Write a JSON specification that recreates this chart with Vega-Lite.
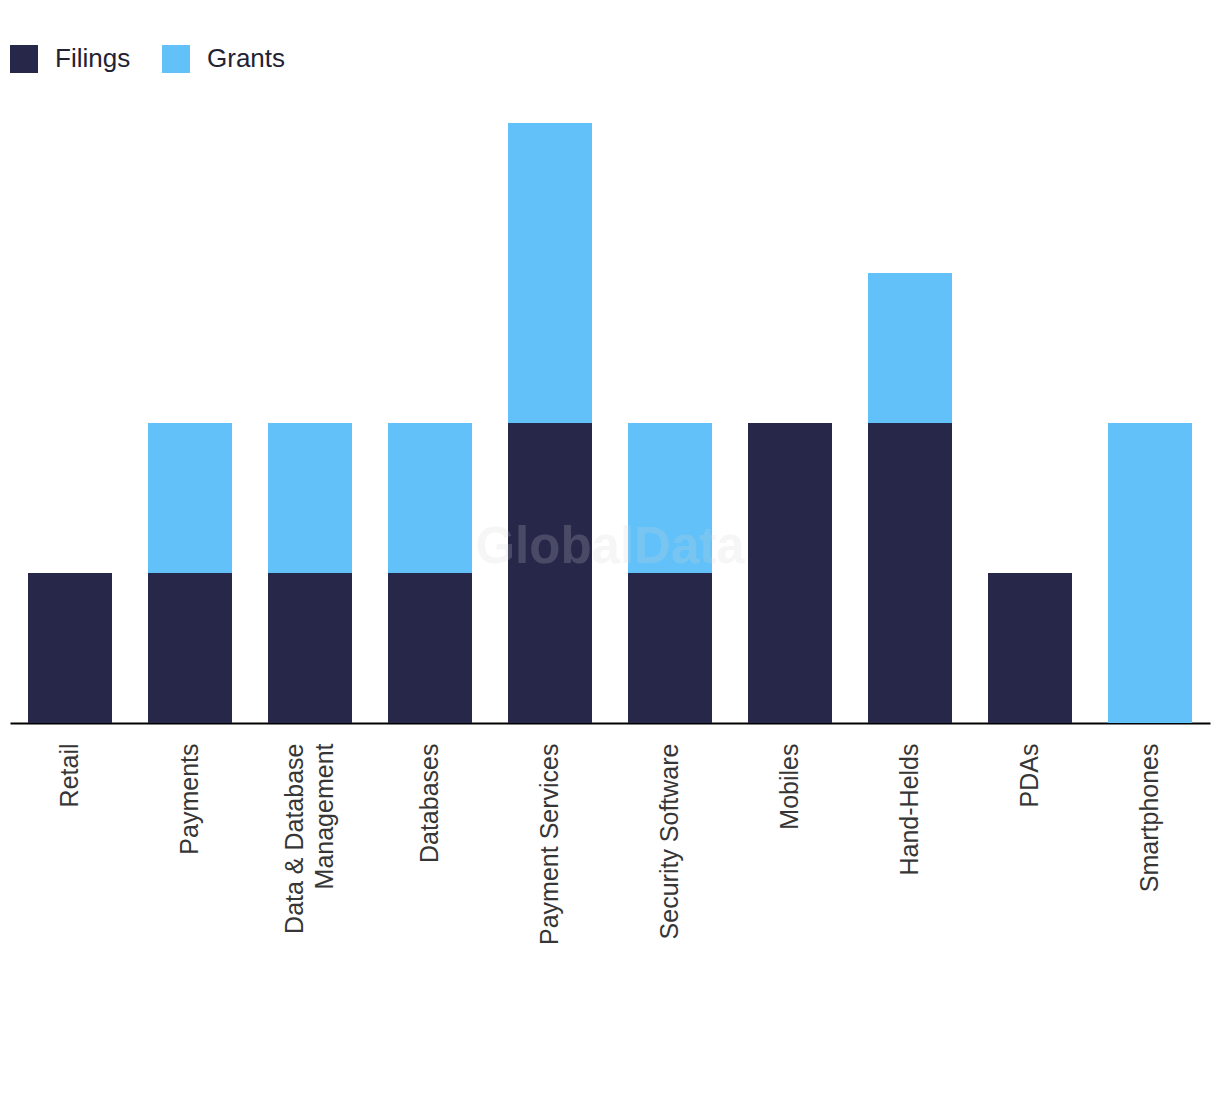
{
  "$schema": "https://vega.github.io/schema/vega-lite/v6.json",
  "width": 1200,
  "height": 600,
  "padding": {"left": 10, "top": 45, "right": 10, "bottom": 10},
  "autosize": {"type": "pad"},
  "background": "white",
  "config": {"view": {"stroke": null}, "font": "Liberation Sans"},
  "layer": [
    {
      "data": {
        "values": [
          {"category": "Retail", "type": "Filings", "count": 1},
          {"category": "Payments", "type": "Filings", "count": 1},
          {"category": "Payments", "type": "Grants", "count": 1},
          {"category": "Data & Database Management", "type": "Filings", "count": 1},
          {"category": "Data & Database Management", "type": "Grants", "count": 1},
          {"category": "Databases", "type": "Filings", "count": 1},
          {"category": "Databases", "type": "Grants", "count": 1},
          {"category": "Payment Services", "type": "Filings", "count": 2},
          {"category": "Payment Services", "type": "Grants", "count": 2},
          {"category": "Security Software", "type": "Filings", "count": 1},
          {"category": "Security Software", "type": "Grants", "count": 1},
          {"category": "Mobiles", "type": "Filings", "count": 2},
          {"category": "Hand-Helds", "type": "Filings", "count": 2},
          {"category": "Hand-Helds", "type": "Grants", "count": 1},
          {"category": "PDAs", "type": "Filings", "count": 1},
          {"category": "Smartphones", "type": "Grants", "count": 2}
        ]
      },
      "mark": {"type": "bar"},
      "encoding": {
        "x": {
          "field": "category",
          "type": "nominal",
          "sort": null,
          "scale": {"paddingInner": 0.3, "paddingOuter": 0.15},
          "axis": {
            "title": null,
            "labelAngle": -90,
            "labelAlign": "right",
            "labelBaseline": "middle",
            "labelPadding": 20,
            "labelFontSize": 25,
            "labelLineHeight": 30,
            "labelColor": "#363636",
            "labelFont": "Liberation Sans",
            "labelLimit": 400,
            "ticks": false,
            "domainColor": "#000000",
            "domainWidth": 2,
            "labelExpr": "datum.label == 'Data & Database Management' ? ['Data & Database', 'Management'] : datum.label",
            "labelOffset": {"condition": {"test": "datum.value == 'Data & Database Management'", "value": -15}, "value": 0}
          }
        },
        "y": {
          "field": "count",
          "type": "quantitative",
          "aggregate": "sum",
          "stack": "zero",
          "scale": {"domain": [0, 4], "nice": false},
          "axis": null
        },
        "order": {"field": "type", "sort": "ascending"},
        "color": {
          "field": "type",
          "type": "nominal",
          "scale": {"domain": ["Filings", "Grants"], "range": ["#27274A", "#62C1F9"]},
          "legend": {
            "title": null,
            "orient": "none",
            "legendX": 0,
            "legendY": -78,
            "direction": "horizontal",
            "symbolType": "square",
            "symbolSize": 784,
            "symbolStrokeWidth": 0,
            "symbolOpacity": 1,
            "labelFontSize": 26,
            "labelColor": "#222233",
            "labelFont": "Liberation Sans",
            "labelOffset": 17,
            "columnPadding": 31
          }
        }
      }
    },
    {
      "data": {"values": [{"label": "GlobalData", "level": 1.17}]},
      "mark": {"type": "text", "font": "Liberation Sans", "fontSize": 51, "fontWeight": "bold", "color": "#d7d7d7", "opacity": 0.2, "align": "center", "baseline": "middle"},
      "encoding": {
        "text": {"field": "label"},
        "y": {"field": "level", "type": "quantitative"}
      }
    }
  ]
}
